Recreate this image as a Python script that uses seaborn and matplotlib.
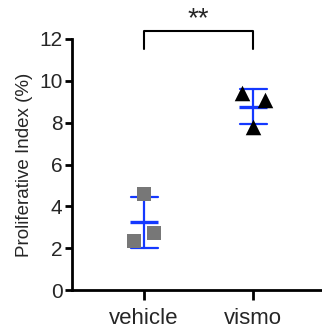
import matplotlib
matplotlib.use('Agg')
import matplotlib.pyplot as plt
import seaborn as sns
import pandas as pd

# values
groups = ['vehicle', 'vismo']
vehicle = [4.6, 2.35, 2.75]
vismo = [9.4, 9.1, 7.8]
# horizontal scatter of the points inside each column
vehicle_jitter = [0.0, -0.09, 0.09]
vismo_jitter = [-0.10, 0.11, 0.0]

df = pd.DataFrame({
    'group': ['vehicle'] * len(vehicle) + ['vismo'] * len(vismo),
    'value': vehicle + vismo,
    'jitter': vehicle_jitter + vismo_jitter,
})
df['xpos'] = df['group'].map({g: i for i, g in enumerate(groups)}) + df['jitter']

sns.set_style('ticks')
plt.rcParams['font.family'] = ['Liberation Sans', 'DejaVu Sans']

fig = plt.figure(figsize=(3.22, 3.30), dpi=100)
ax = fig.add_axes([0.224, 0.121, 0.776, 0.761])

blue = '#1438ff'

# mean +/- SD
sns.pointplot(data=df, x='group', y='value', order=groups, errorbar='sd',
              capsize=0.25, linestyle='none', marker='_', markersize=20,
              markeredgewidth=2.4, color=blue, err_kws={'linewidth': 1.6}, ax=ax)

# individual points
veh = df[df.group == 'vehicle']
vis = df[df.group == 'vismo']
sns.scatterplot(x=veh['xpos'], y=veh['value'], marker='s', s=105,
                color='#777777', linewidth=0, ax=ax, zorder=3)
sns.scatterplot(x=vis['xpos'], y=vis['value'], marker='^', s=125,
                color='black', linewidth=0, ax=ax, zorder=3)

ax.set_xlim(-0.66, 1.63)
ax.set_ylim(0, 12)
ax.set_xticks(range(len(groups)))
ax.set_xticklabels(groups)
ax.set_yticks([0, 2, 4, 6, 8, 10, 12])
ax.set_xlabel('')
ax.set_ylabel('Proliferative Index (%)', fontsize=13.5, labelpad=4)
ax.tick_params(axis='y', labelsize=15, width=2, length=5, color='black', pad=2)
ax.tick_params(axis='x', labelsize=16, width=2, length=7, color='black', pad=6)
for s in ['left', 'bottom']:
    ax.spines[s].set_linewidth(2)
    ax.spines[s].set_color('black')
sns.despine(ax=ax)

# significance bracket
ax.plot([0, 0, 1, 1], [11.5, 12.4, 12.4, 11.5], color='black', lw=1.5, clip_on=False)
ax.text(0.5, 12.3, '**', ha='center', va='bottom', fontsize=20, clip_on=False)

fig.savefig('out.png', dpi=100)
